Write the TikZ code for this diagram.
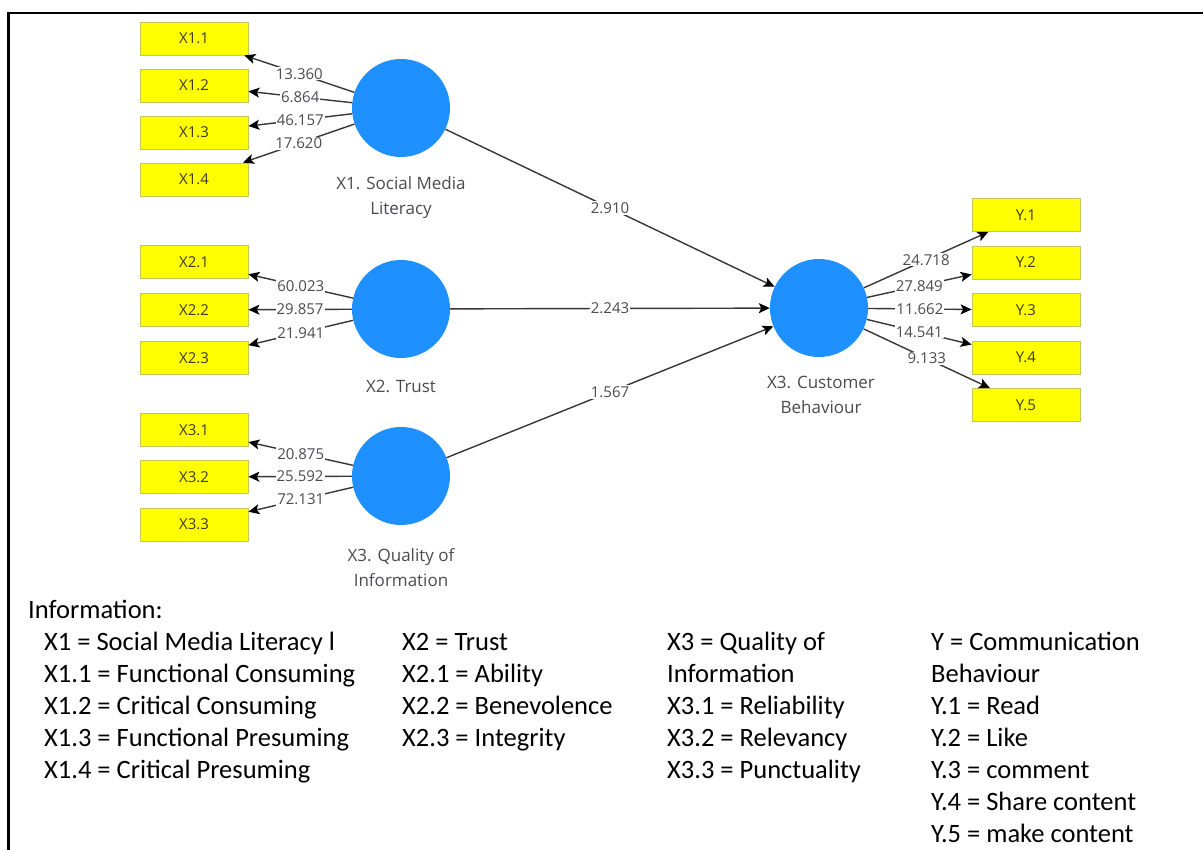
\documentclass[tikz,border=0pt]{standalone}
\usepackage{fontspec}
\setmainfont{Carlito}
\newfontfamily\uifont{Open Sans}
\usetikzlibrary{arrows.meta}
\definecolor{circblue}{RGB}{30,144,255}
\definecolor{boxyellow}{RGB}{255,255,0}
\definecolor{boxedge}{RGB}{200,200,90}
\definecolor{linegray}{RGB}{55,55,55}
\definecolor{txtgray}{RGB}{75,75,80}
\definecolor{boxtxt}{RGB}{60,60,25}
\begin{document}
\begin{tikzpicture}[x=1pt,y=-1pt,
 lv/.style={circle, fill=circblue, draw=none, minimum size=98pt, inner sep=0pt},
 mv/.style={rectangle, fill=boxyellow, draw=boxedge, line width=0.8pt, minimum width=108pt, minimum height=33pt, inner sep=0pt, font=\uifont\fontsize{15}{18}\selectfont, text=boxtxt},
 arr/.style={draw=linegray, line width=1.4pt, -{Stealth[length=11pt,width=10pt,inset=2.5pt,color=black]}},
 coef/.style={fill=white, inner sep=1pt, font=\uifont\fontsize{15}{16}\selectfont, text=txtgray},
 lvlab/.style={align=center, font=\uifont\fontsize{17}{25}\selectfont, text=txtgray},
 leg/.style={anchor=base west, inner sep=0pt, font=\fontsize{26.5}{32}\selectfont}
]
\useasboundingbox (0,0) rectangle (1203,850);
\fill[white] (0,0) rectangle (1203,850);
\draw[line width=2.7pt, line join=miter] (1203,13) -- (8.5,13) -- (8.5,850);

% latent variables
\node[lv] (X1) at (401,108) {};
\node[lv] (X2) at (401,309) {};
\node[lv] (X3) at (401,476) {};
\node[lv] (CB) at (819,308) {};
\node[lvlab] (X1l) at (401,197.5) {X1. Social Media\\Literacy};
\node[lvlab] (X2l) at (401,386) {X2. Trust};
\node[lvlab] (X3l) at (401,568) {X3. Quality of\\Information};
\node[lvlab] (CBl) at (821,395) {X3. Customer\\Behaviour};

% indicators
\node[mv] (x11) at (194,38.5) {X1.1};
\node[mv] (x12) at (194,85.5) {X1.2};
\node[mv] (x13) at (194,132.5) {X1.3};
\node[mv] (x14) at (194,179.5) {X1.4};
\node[mv] (x21) at (194,262) {X2.1};
\node[mv] (x22) at (194,310) {X2.2};
\node[mv] (x23) at (194,358) {X2.3};
\node[mv] (x31) at (194,430) {X3.1};
\node[mv] (x32) at (194,477) {X3.2};
\node[mv] (x33) at (194,524.5) {X3.3};
\node[mv] (y1) at (1026,215) {Y.1};
\node[mv] (y2) at (1026,262.5) {Y.2};
\node[mv] (y3) at (1026,310) {Y.3};
\node[mv] (y4) at (1026,357.5) {Y.4};
\node[mv] (y5) at (1026,405) {Y.5};

% outer model
\draw[arr] (X1) -- node[coef]{13.360} (x11);
\draw[arr] (X1) -- node[coef]{6.864} (x12);
\draw[arr] (X1) -- node[coef]{46.157} (x13);
\draw[arr] (X1) -- node[coef]{17.620} (x14);
\draw[arr] (X2) -- node[coef]{60.023} (x21);
\draw[arr] (X2) -- node[coef]{29.857} (x22);
\draw[arr] (X2) -- node[coef]{21.941} (x23);
\draw[arr] (X3) -- node[coef]{20.875} (x31);
\draw[arr] (X3) -- node[coef]{25.592} (x32);
\draw[arr] (X3) -- node[coef]{72.131} (x33);
\draw[arr] (CB) -- node[coef]{24.718} (y1);
\draw[arr] (CB) -- node[coef]{27.849} (y2);
\draw[arr] (CB) -- node[coef]{11.662} (y3);
\draw[arr] (CB) -- node[coef]{14.541} (y4);
\draw[arr] (CB) -- node[coef]{9.133} (y5);

% inner model
\draw[arr] (X1) -- node[coef]{2.910} (CB);
\draw[arr] (X2) -- node[coef]{2.243} (CB);
\draw[arr] (X3) -- node[coef]{1.567} (CB);

% legend
\node[leg] (info) at (28,618) {Information:};
\foreach \t [count=\i] in {X1 = Social Media Literacy l, X1.1 = Functional Consuming, X1.2 = Critical Consuming, X1.3 = Functional Presuming, X1.4 = Critical Presuming}
  \node[leg, name=ca\i] at (44,{650+(\i-1)*32}) {\t};
\foreach \t [count=\i] in {X2 = Trust, X2.1 = Ability, X2.2 = Benevolence, X2.3 = Integrity}
  \node[leg, name=cb\i] at (402,{650+(\i-1)*32}) {\t};
\foreach \t [count=\i] in {X3 = Quality of, Information, X3.1 = Reliability, X3.2 = Relevancy, X3.3 = Punctuality}
  \node[leg, name=cc\i] at (667,{650+(\i-1)*32}) {\t};
\foreach \t [count=\i] in {Y = Communication, Behaviour, Y.1 = Read, Y.2 = Like, Y.3 = comment, Y.4 = Share content, Y.5 = make content}
  \node[leg, name=cd\i] at (931,{650+(\i-1)*32}) {\t};
\end{tikzpicture}
\end{document}
